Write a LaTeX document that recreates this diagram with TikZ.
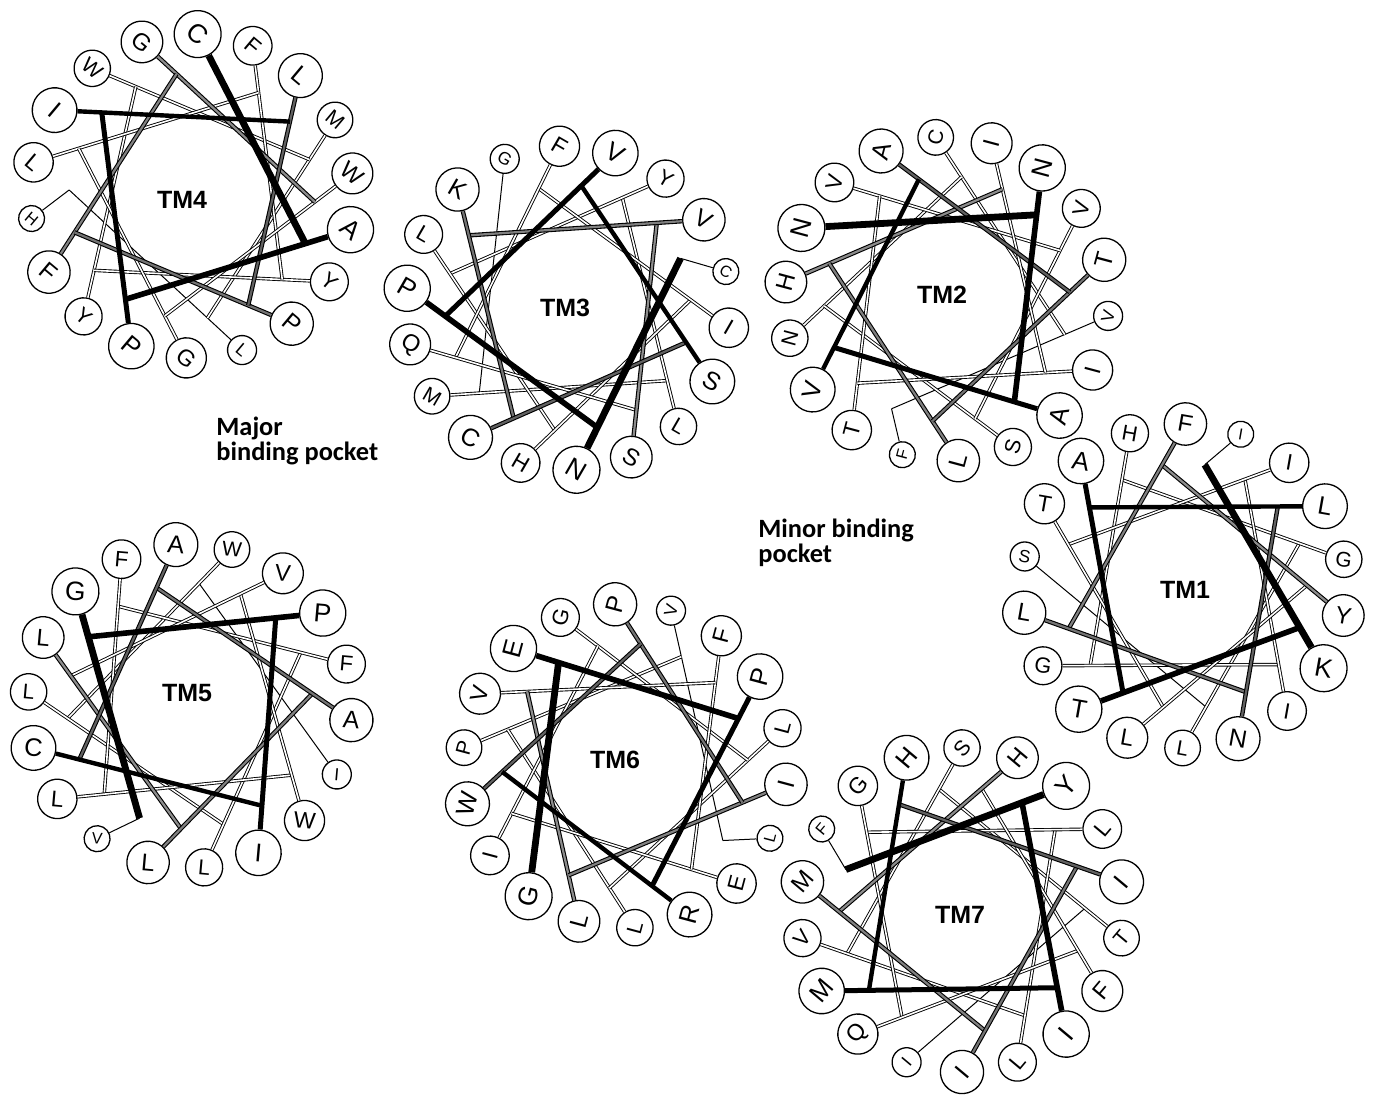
\documentclass[tikz,border=0pt]{standalone}
\usepackage{fontspec}
\setmainfont{Liberation Sans}
\newfontfamily\pocketfont{Carlito}
\usepackage{tikz}
\tikzstyle{res}=[circle,draw=black,fill=white,inner sep=0pt,line width=0.65pt]
\tikzstyle{tmlabel}=[font=\bfseries\fontsize{12.5}{12.5}\selectfont]
\tikzstyle{pocket}=[align=left,inner sep=0pt,anchor=north west,font=\pocketfont\bfseries\fontsize{13.2}{12.5}\selectfont]
\tikzset{hl/.code={\ifcase#1\or
  \tikzset{line width=3.4pt}\or
  \tikzset{line width=2.8pt}\or
  \tikzset{line width=2.5pt}\or
  \tikzset{line width=2.2pt}\or
  \tikzset{line width=0.55pt,double=black!62,double distance=1.1pt}\or
  \tikzset{line width=0.55pt,double=black!55,double distance=1.1pt}\or
  \tikzset{line width=0.55pt,double=black!50,double distance=1.1pt}\or
  \tikzset{line width=0.55pt,double=black!45,double distance=1.1pt}\else
  \ifnum#1<17 \tikzset{line width=0.45pt,double=white,double distance=0.8pt}%
  \else \tikzset{line width=0.5pt}\fi
  \fi}}

\newcommand{\wheel}[6]{%
\begin{scope}[shift={#2}]
\foreach \aa [count=\i] in {#6} {
  \pgfmathsetmacro{\th}{#3-100*(\i-1)}
  \pgfmathsetmacro{\rr}{\i<17 ? 23.5-0.38*(\i-1) : (\i<18 ? 14.5 : 13)}
  \pgfmathsetmacro{\fs}{0.5*\rr+1.5}
  \pgfmathsetmacro{\ea}{\i<18 ? \th+(#4)*110.8 : \th+(#4)*10.8}
  \node (#1r\i) at (\th:162) [res,minimum size=\rr pt,rotate=#5,font=\fontsize{\fs}{\fs}\selectfont] {\aa};
  \coordinate (#1e\i) at (\ea:123);
}
\foreach \i in {18,...,1}
  \draw[hl=\i] (#1r\i) -- (#1e\i);
\end{scope}}

\begin{document}
\begin{tikzpicture}[x=0.5pt,y=0.5pt]
\useasboundingbox (0,0) rectangle (1376,1097);

\wheel{tm4}{(192,901)}{88}{-1}{-40}{C,A,P,I,L,P,F,G,W,G,L,F,Y,Y,W,M,L,H}
\wheel{tm3}{(568,789)}{-87}{1}{-30}{N,P,V,S,C,K,V,S,Q,F,I,H,L,Y,L,M,G,C}
\wheel{tm2}{(947,798)}{154}{-1}{75}{N,N,A,V,A,T,L,H,I,I,T,V,V,S,N,C,V,F}
\wheel{tm1}{(1184,511)}{-30.5}{1}{-10}{K,T,A,L,N,L,F,Y,L,T,I,I,G,H,G,L,S,I}
\wheel{tm5}{(190,391)}{135}{1}{-5}{G,P,I,C,A,A,L,L,V,W,L,F,F,L,L,W,I,V}
\wheel{tm6}{(625,331)}{-126.5}{-1}{75}{G,E,P,R,W,P,I,L,V,F,E,I,G,L,L,P,V,L}
\wheel{tm7}{(962,187)}{50}{1}{50}{Y,I,M,H,I,I,M,H,F,Q,G,L,L,V,S,T,I,F}

\node (tm4) at (182,897) [tmlabel] {TM4};
\node (tm3) at (565,789) [tmlabel] {TM3};
\node (tm2) at (942,802) [tmlabel] {TM2};
\node (tm1) at (1185,507) [tmlabel] {TM1};
\node (tm5) at (187,404) [tmlabel] {TM5};
\node (tm6) at (615,337) [tmlabel] {TM6};
\node (tm7) at (960,182) [tmlabel] {TM7};

\node (major) at (216,680) [pocket] {Major\\binding pocket};
\node (minor) at (758,578) [pocket] {Minor binding\\pocket};
\end{tikzpicture}
\end{document}
